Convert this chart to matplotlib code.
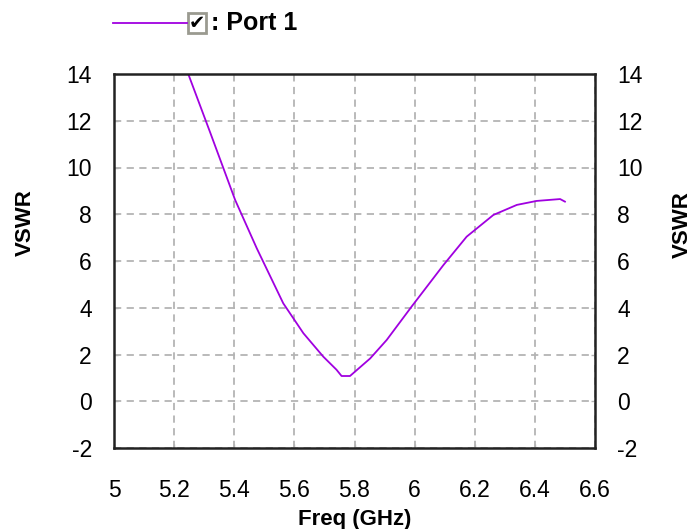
import matplotlib
matplotlib.use("Agg")
import matplotlib.pyplot as plt
from matplotlib.patches import Rectangle
from matplotlib.lines import Line2D

# values (freq in GHz, VSWR)
freq = [5.20, 5.247, 5.319, 5.403, 5.475, 5.563, 5.630, 5.696, 5.740, 5.757,
        5.785, 5.852, 5.907, 5.990, 6.096, 6.173, 6.262, 6.340, 6.406, 6.484, 6.500]
vswr = [15.6, 14.0, 11.53, 8.61, 6.54, 4.19, 2.91, 1.91, 1.35, 1.08,
        1.08, 1.83, 2.62, 4.05, 5.83, 7.04, 7.97, 8.40, 8.57, 8.65, 8.54]
xticks = [5, 5.2, 5.4, 5.6, 5.8, 6, 6.2, 6.4, 6.6]
yticks = [-2, 0, 2, 4, 6, 8, 10, 12, 14]

plt.rcParams['font.family'] = ['Liberation Sans', 'DejaVu Sans']
plt.rcParams['axes.unicode_minus'] = False

fig = plt.figure(figsize=(6.94, 5.29), dpi=100)
ax = fig.add_axes([114/694, 1 - 448/529, (595 - 114)/694, (448 - 74)/529])

ax.plot(freq, vswr, color='#a000e0', lw=1.3)
ax.set_xlim(5, 6.6)
ax.set_ylim(-2, 14)
ax.set_xticks(xticks)
ax.set_xticklabels(['%g' % t for t in xticks])
ax.set_yticks(yticks)
ax.grid(True, color='#b4b4b4', linestyle=(0, (4, 3)), linewidth=1.3)
ax.tick_params(direction='in', length=3, width=1, labelsize=16.5, color='#b4b4b4',
               right=True, labelright=True)
ax.tick_params(axis='x', pad=22)
ax.tick_params(axis='y', pad=16)
for s in ax.spines.values():
    s.set_linewidth(1.8)
    s.set_color('#222222')

ax.set_xlabel('Freq (GHz)', fontsize=16, fontweight='bold', labelpad=5)
fig.text(25/694, 1 - 223/529, 'VSWR', fontsize=16, fontweight='bold',
         rotation=90, ha='center', va='center')
fig.text(682/694, 1 - 225/529, 'VSWR', fontsize=16, fontweight='bold',
         rotation=90, ha='center', va='center')

# legend drawn by hand (line, checkbox, text)
fig.add_artist(Line2D([113/694, 187/694], [1 - 23/529, 1 - 23/529],
                      color='#a000e0', lw=1.3))
fig.add_artist(Rectangle((188/694, 1 - 33/529), 18/694, 20/529,
                         facecolor='white', edgecolor='#9a9a90', lw=2))
fig.text(197/694, 1 - 23.5/529, '\u2714', fontsize=14, ha='center', va='center',
         family=['DejaVu Sans'])
fig.text(211/694, 1 - 23/529, ': Port 1', fontsize=18, fontweight='bold',
         ha='left', va='center')

fig.savefig('out.png', dpi=100)
